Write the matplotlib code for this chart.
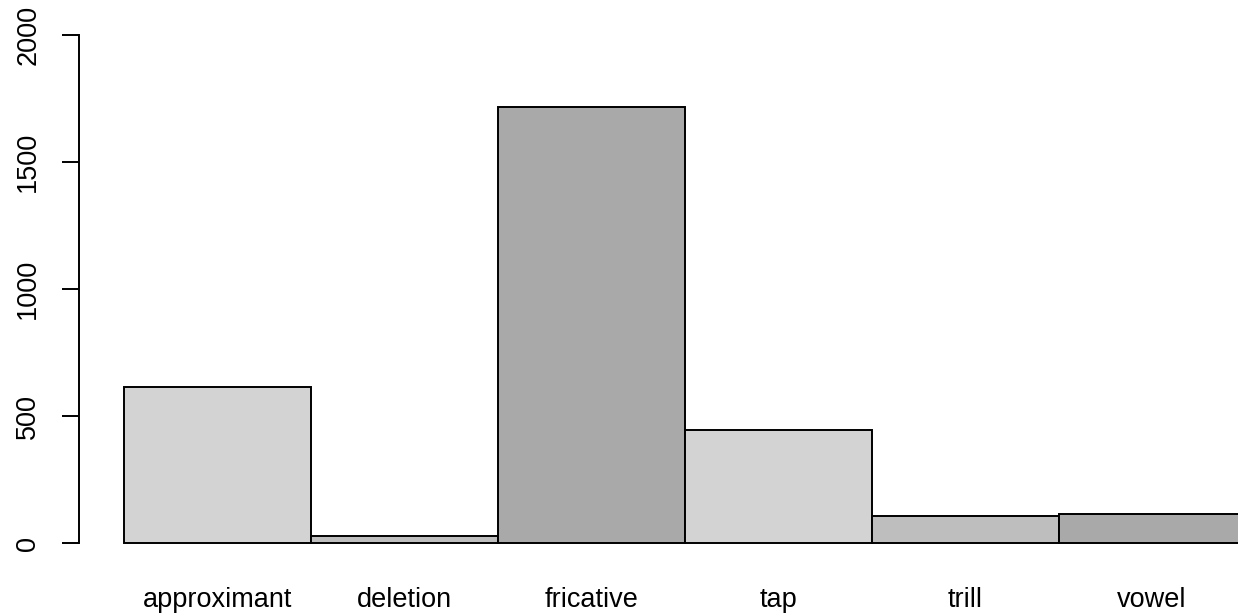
import matplotlib
matplotlib.use("Agg")
import matplotlib.pyplot as plt

categories = ["approximant", "deletion", "fricative", "tap", "trill", "vowel"]
counts = [616, 30, 1719, 446, 109, 117]
colors = ["#d3d3d3", "#bebebe", "#a9a9a9", "#d3d3d3", "#bebebe", "#a9a9a9"]
yticks = [0, 500, 1000, 1500, 2000]

plt.rcParams['font.family'] = ['Liberation Sans', 'DejaVu Sans']

W, H = 1238, 615
fig = plt.figure(figsize=(W / 100, H / 100), dpi=100)
left_px, right_px = 79.1, 1290.3
top_px, bottom_px = 15.0, 563.6
ax = fig.add_axes([left_px / W, 1 - bottom_px / H,
                   (right_px - left_px) / W, (bottom_px - top_px) / H])

x = list(range(len(categories)))
ax.bar([i + 0.5 for i in x], counts, width=1.0, color=colors,
       edgecolor="black", linewidth=1.4)

ax.set_xlim(-0.24, 6.24)
ax.set_ylim(-80, 2080)

for s in ["top", "right", "bottom"]:
    ax.spines[s].set_visible(False)
ax.spines["left"].set_bounds(0, 2000)
ax.spines["left"].set_linewidth(1.4)

ax.set_yticks(yticks)
ax.set_yticklabels([str(v) for v in yticks], rotation=90, va="center",
                   fontsize=19.5)
ax.tick_params(axis="y", length=12.2, width=1.4, pad=15)

ax.set_xticks([i + 0.5 for i in x])
ax.set_xticklabels(categories, fontsize=19.5)
ax.tick_params(axis="x", length=0, pad=16.8)

fig.savefig("out.png", dpi=100)
